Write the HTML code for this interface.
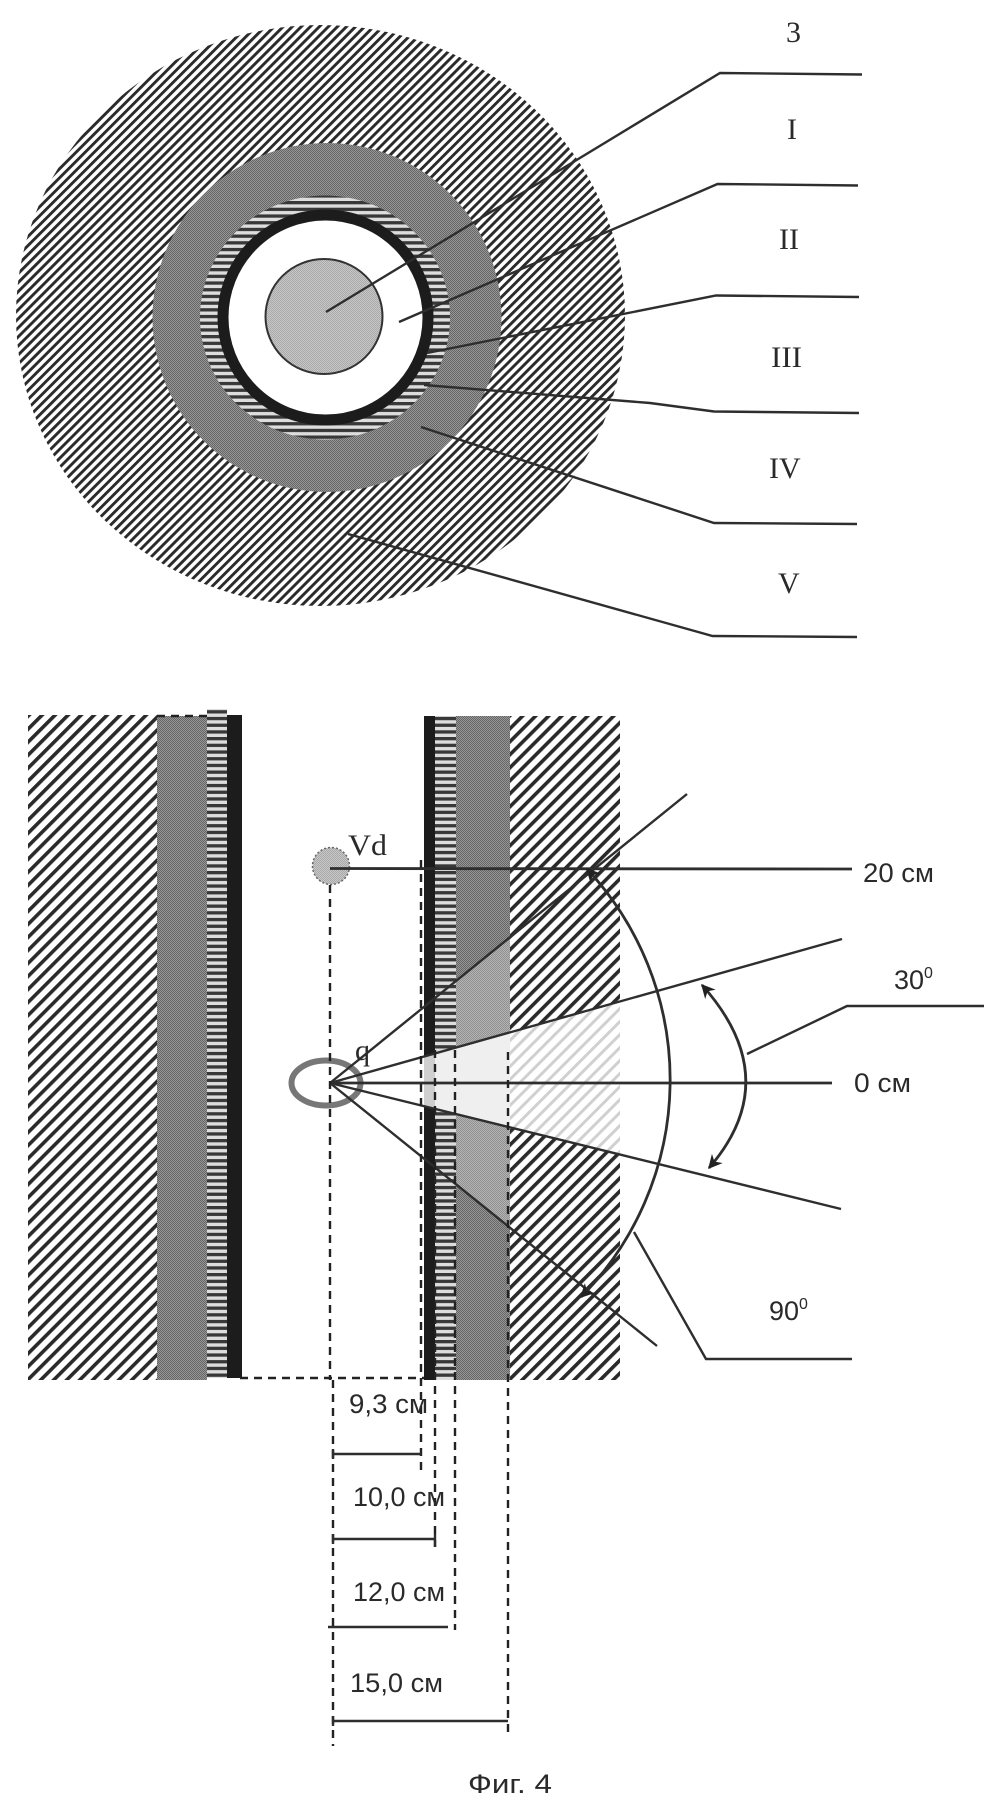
<!DOCTYPE html>
<html><head><meta charset="utf-8"><title>Фиг. 4</title>
<style>html,body{margin:0;padding:0;background:#fff}svg{display:block}
.s{font-family:"Liberation Serif",serif;fill:#2a2a2a;font-size:30px}
.a{font-family:"Liberation Sans",sans-serif;fill:#2a2a2a;font-size:27px}
.l{fill:none;stroke:#2e2e2e;stroke-width:2.400}
.d{fill:none;stroke:#222;stroke-width:2.400;stroke-dasharray:8 6}
</style></head><body>
<svg xmlns="http://www.w3.org/2000/svg" width="984" height="1805" viewBox="0 0 984 1805">
<defs>
<pattern id="h1" width="6.4" height="20" patternUnits="userSpaceOnUse" patternTransform="rotate(45)"><rect width="2.900" height="20" fill="#2a2a2a"/></pattern>
<pattern id="h2" width="9.2" height="20" patternUnits="userSpaceOnUse" patternTransform="rotate(45)"><rect width="3.600" height="20" fill="#2a2a2a"/></pattern>
<pattern id="h3" width="9.2" height="20" patternUnits="userSpaceOnUse" patternTransform="rotate(45)"><rect width="3" height="20" fill="#d0d0d0"/></pattern>
<pattern id="st" width="20" height="6.7" patternUnits="userSpaceOnUse"><rect width="20" height="6.7" fill="#ddd"/><rect width="20" height="3.3" fill="#383838"/></pattern>
<pattern id="g" width="2" height="2" patternUnits="userSpaceOnUse"><rect width="2" height="2" fill="#969696"/><rect width="1" height="1" fill="#666"/><rect x="1" y="1" width="1" height="1" fill="#666"/></pattern>
<pattern id="gl" width="2" height="2" patternUnits="userSpaceOnUse"><rect width="2" height="2" fill="#c8c8c8"/><rect width="1" height="1" fill="#a8a8a8"/><rect x="1" y="1" width="1" height="1" fill="#a8a8a8"/></pattern>
<pattern id="gm" width="2" height="2" patternUnits="userSpaceOnUse"><rect width="2" height="2" fill="#b4b4b4"/><rect width="1" height="1" fill="#909090"/><rect x="1" y="1" width="1" height="1" fill="#909090"/></pattern>
<clipPath id="w"><polygon points="330,1083 620,1001.5 620,1154"/></clipPath>
<marker id="ar" viewBox="0 0 10 10" refX="9" refY="5" markerWidth="14" markerHeight="14" markerUnits="userSpaceOnUse" orient="auto-start-reverse"><path d="M0,0 L10,5 L0,10 L3,5 Z" fill="#222"/></marker>
</defs>
<rect width="984" height="1805" fill="#fff"/>

<!-- Top: cross-section -->
<ellipse cx="320.500" cy="315.500" rx="304.500" ry="290.500" fill="url(#h1)"/>
<ellipse cx="327" cy="317.500" rx="174.500" ry="174.500" fill="url(#g)"/>
<ellipse cx="325" cy="317.500" rx="125" ry="122" fill="url(#st)"/>
<ellipse cx="325.500" cy="317.500" rx="102.500" ry="102.500" fill="#fff" stroke="#1c1c1c" stroke-width="11"/>
<ellipse cx="324" cy="316.500" rx="58.500" ry="57.500" fill="url(#gl)" stroke="#333" stroke-width="2"/>

<path class="l" d="M326,312 L720,73 L862,74.500"/>
<path class="l" d="M399,322 L717.500,184 L858,185.500"/>
<path class="l" d="M427,353 L716,295.500 L859,297"/>
<path class="l" d="M424,385 L650,403 L714,411.500 L859,413"/>
<path class="l" d="M421,427 L714,523 L857,524"/>
<path class="l" d="M348,534 L712.500,636 L857,637"/>

<text class="s" x="786" y="42">3</text>
<text class="s" x="787" y="139">I</text>
<text class="s" x="779" y="249">II</text>
<text class="s" x="771" y="367" textLength="31" lengthAdjust="spacingAndGlyphs">III</text>
<text class="s" x="769" y="478">IV</text>
<text class="s" x="778" y="593">V</text>

<!-- Bottom: left wall -->
<rect x="28" y="715" width="129" height="665" fill="url(#h2)"/>
<rect x="157" y="716" width="50" height="664" fill="url(#g)"/>
<rect x="207" y="709" width="20" height="669" fill="url(#st)"/>
<rect x="227" y="715" width="15" height="663" fill="#1c1c1c"/>
<path class="d" d="M157,716 H207" stroke-dasharray="6 6"/>

<!-- Bottom: right wall -->
<rect x="424" y="716" width="11" height="664" fill="#1c1c1c"/>
<rect x="435" y="716" width="21" height="664" fill="url(#st)"/>
<rect x="456" y="716" width="54" height="664" fill="url(#g)"/>
<rect x="510" y="716" width="110" height="664" fill="url(#h2)"/>

<!-- mid wedge in gray wall -->
<polygon points="456,981 510,937 510,1228 456,1184" fill="url(#gm)"/>
<!-- light wedge -->
<g clip-path="url(#w)">
<rect x="424" y="990" width="11" height="180" fill="#cfcfcf"/>
<rect x="435" y="990" width="75" height="180" fill="#efefef"/>
<rect x="510" y="990" width="110" height="180" fill="#fff"/>
<rect x="510" y="990" width="110" height="180" fill="url(#h3)"/>
</g>

<!-- source & detector -->
<ellipse cx="326" cy="1083" rx="34.500" ry="22.500" fill="none" stroke="#777" stroke-width="6"/>
<circle cx="331" cy="866" r="18.500" fill="url(#gl)" stroke="#666" stroke-width="1.500" stroke-dasharray="2 2"/>

<!-- rays -->
<path class="l" style="stroke-width:2.800" d="M330,1083 L832,1083"/>
<path class="l" style="stroke-width:2.800" d="M330,868.500 L852,869"/>
<path class="l" d="M330,1083 L842,939"/>
<path class="l" d="M330,1083 L841,1209"/>
<path class="l" d="M330,1083 L687,794"/>
<path class="l" d="M330,1083 L657,1346"/>

<!-- arcs -->
<path class="l" style="stroke-width:2.800" d="M587,869 A309,309 0 0 1 581,1297" marker-start="url(#ar)" marker-end="url(#ar)"/>
<path class="l" style="stroke-width:2.800" d="M702,985 Q786,1079 709,1168" marker-start="url(#ar)" marker-end="url(#ar)"/>
<path class="l" d="M747,1054 L847,1006 L984,1006"/>
<path class="l" d="M634,1232 L706,1359 L852,1359"/>

<!-- dashed -->
<path class="d" d="M330,885 V1380 M333,1380 V1746"/>
<path class="d" d="M421,860 V1476"/>
<path class="d" d="M435,1050 V1547"/>
<path class="d" d="M455,1050 V1630"/>
<path class="d" d="M508,1052 V1735"/>
<path class="d" d="M240,1378 H424" stroke-dasharray="7 7"/>

<!-- dimension lines -->
<path class="l" d="M333,1454 H421 M333,1449 V1459"/>
<path class="l" d="M333,1539 H435 M333,1534 V1544 M435,1534 V1547"/>
<path class="l" d="M328,1627 H448"/>
<path class="l" d="M333,1721 H508 M333,1716 V1726"/>

<!-- labels -->
<text class="s" x="348" y="855" textLength="39" lengthAdjust="spacingAndGlyphs">Vd</text>
<text class="s" x="355" y="1060" style="font-size:30px">q</text>
<text class="a" x="863" y="882" textLength="71" lengthAdjust="spacingAndGlyphs">20 см</text>
<text class="a" x="854" y="1092" textLength="57" lengthAdjust="spacingAndGlyphs">0 см</text>
<text class="a" x="894" y="989">30<tspan dy="-11" style="font-size:16px">0</tspan></text>
<text class="a" x="769" y="1320">90<tspan dy="-11" style="font-size:16px">0</tspan></text>
<text class="a" x="349" y="1413" textLength="79" lengthAdjust="spacingAndGlyphs">9,3 см</text>
<text class="a" x="353" y="1506" textLength="92" lengthAdjust="spacingAndGlyphs">10,0 см</text>
<text class="a" x="353" y="1601" textLength="92" lengthAdjust="spacingAndGlyphs">12,0 см</text>
<text class="a" x="350" y="1692" textLength="93" lengthAdjust="spacingAndGlyphs">15,0 см</text>
<text class="a" x="468" y="1793" textLength="84" lengthAdjust="spacingAndGlyphs">Фиг. 4</text>
</svg>
</body></html>
